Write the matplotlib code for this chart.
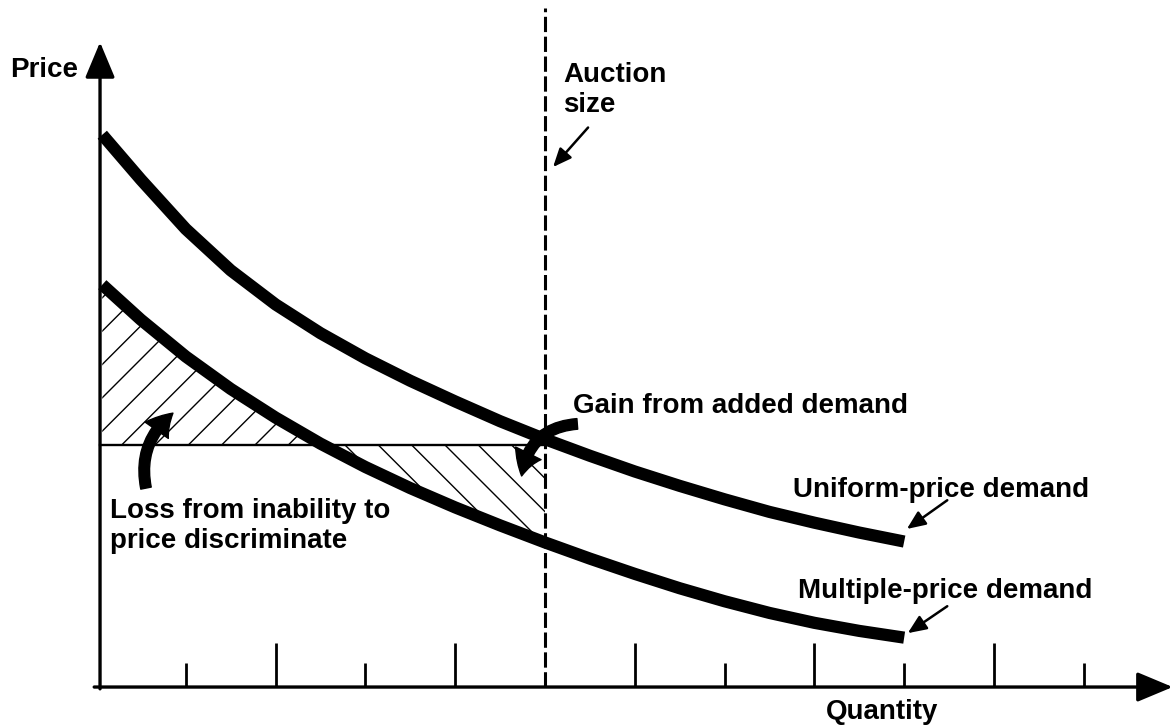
import matplotlib.pyplot as plt
import numpy as np

plt.rcParams["font.family"] = ["Liberation Sans", "DejaVu Sans"]
plt.rcParams["hatch.linewidth"] = 1.0

# quantity grid (one unit = one tick on the quantity axis)
quantity = np.array([0.07, 0.5, 1.0, 1.5, 2.0, 2.5, 3.0, 3.5, 4.0, 4.5,
                     5.0, 5.5, 6.0, 6.5, 7.0, 7.5, 8.0, 8.5, 9.0])
uniform_demand = np.array([6.15, 5.65, 5.10, 4.64, 4.26, 3.94, 3.66, 3.41, 3.18, 2.96,
                           2.76, 2.575, 2.40, 2.24, 2.09, 1.95, 1.83, 1.72, 1.62])
multiple_demand = np.array([4.48, 4.09, 3.68, 3.32, 3.00, 2.71, 2.45, 2.215, 2.00, 1.80,
                            1.61, 1.43, 1.26, 1.10, 0.955, 0.825, 0.715, 0.625, 0.55])
auction_size = 5.0
clearing_price = 2.70
long_ticks = [2, 4, 6, 8, 10]
short_ticks = [1, 3, 7, 9, 11]

fig = plt.figure(figsize=(11.75, 7.27), dpi=100)
ax = fig.add_axes([0, 0, 1, 1])
ax.set_xlim(-1.069, 12.016)
ax.set_ylim(-0.445, 7.650)
ax.axis("off")

# hatched areas (only up to the auction size)
n = np.searchsorted(quantity, auction_size) + 1
q = quantity[:n]
low = multiple_demand[:n]
ax.fill_between(q, low, clearing_price, where=low >= clearing_price, interpolate=True,
                facecolor="none", edgecolor="black", hatch="/", linewidth=0)
ax.fill_between(q, low, clearing_price, where=low <= clearing_price, interpolate=True,
                facecolor="none", edgecolor="black", hatch="\\", linewidth=0)

# horizontal price line
ax.plot([0.045, auction_size], [clearing_price, clearing_price], color="black", lw=1.7)

# demand curves
for curve in (uniform_demand, multiple_demand):
    ax.plot(quantity, curve, color="black", lw=8.8,
            solid_capstyle="butt", solid_joinstyle="round")

# auction size
ax.plot([auction_size, auction_size], [0, 7.56], color="black", lw=2.2,
        linestyle=(0, (5, 1.5)))

# axes with arrowheads
head = "-|>,head_length=0.55,head_width=0.23"
ax.annotate("", xy=(11.99, 0), xytext=(-0.02, 0),
            arrowprops=dict(arrowstyle=head, mutation_scale=40, lw=2.4,
                            color="black", shrinkA=0, shrinkB=0))
ax.annotate("", xy=(0.045, 7.18), xytext=(0.045, -0.02),
            arrowprops=dict(arrowstyle=head, mutation_scale=40, lw=2.4,
                            color="black", shrinkA=0, shrinkB=0))

ax.vlines(long_ticks, 0, 0.49, color="black", lw=2.0)
ax.vlines(short_ticks, 0, 0.27, color="black", lw=2.0)

txt = dict(fontsize=20, fontweight="bold", ha="left", va="baseline")
ax.text(-0.958, 6.79, "Price", **txt)
ax.text(8.75, -0.36, "Quantity", **dict(txt, ha="center"))
ax.text(5.20, 6.74, "Auction", **txt)
ax.text(5.20, 6.40, "size", **txt)
ax.text(5.31, 3.05, "Gain from added demand", **txt)
ax.text(0.156, 1.88, "Loss from inability to", **txt)
ax.text(0.156, 1.55, "price discriminate", **txt)
ax.text(7.76, 2.12, "Uniform-price demand", **txt)
ax.text(7.82, 0.99, "Multiple-price demand", **txt)

thin = dict(arrowstyle="-|>,head_length=0.7,head_width=0.3", mutation_scale=16,
            lw=1.8, color="black", shrinkA=0, shrinkB=0)
ax.annotate("", xy=(5.09, 5.79), xytext=(5.48, 6.23), arrowprops=thin)
ax.annotate("", xy=(9.03, 1.76), xytext=(9.48, 2.08), arrowprops=thin)
ax.annotate("", xy=(9.04, 0.60), xytext=(9.48, 0.90), arrowprops=thin)

thick = dict(arrowstyle="simple,head_length=1.0,head_width=1.2,tail_width=0.45",
             mutation_scale=17, color="black", shrinkA=0, shrinkB=0)
ax.annotate("", xy=(4.74, 2.35), xytext=(5.36, 2.93),
            arrowprops=dict(thick, connectionstyle="arc3,rad=0.4"))
ax.annotate("", xy=(0.857, 3.05), xytext=(0.557, 2.215),
            arrowprops=dict(thick, connectionstyle="arc3,rad=-0.3"))

fig.savefig("out.png", dpi=100)
